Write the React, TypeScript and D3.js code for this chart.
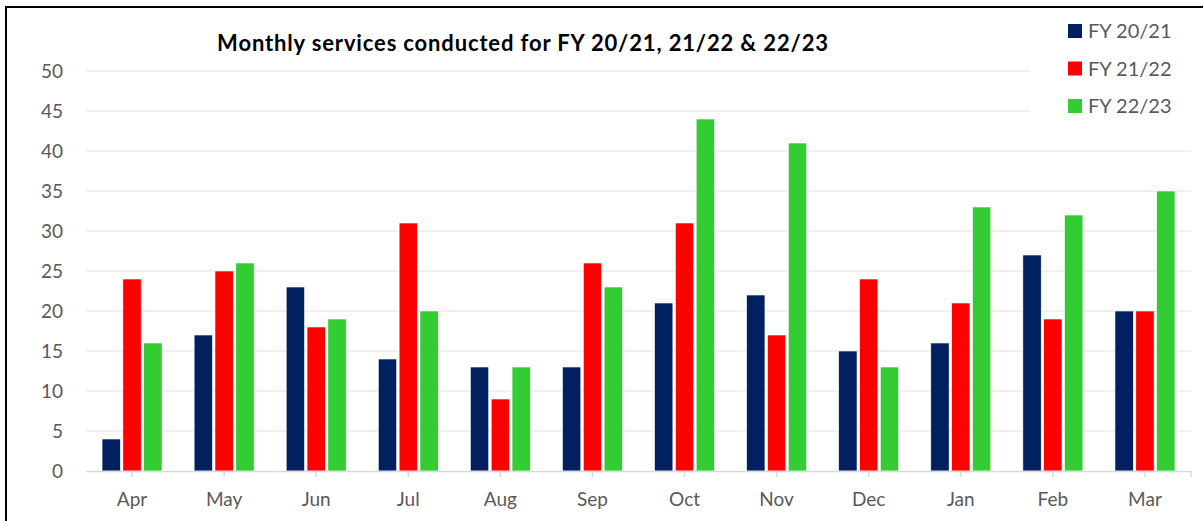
import * as d3 from "d3";

const MONTHS = ["Apr", "May", "Jun", "Jul", "Aug", "Sep", "Oct", "Nov", "Dec", "Jan", "Feb", "Mar"];
const SERIES = ["FY 20/21", "FY 21/22", "FY 22/23"];
const FY2021 = [4, 17, 23, 14, 13, 13, 21, 22, 15, 16, 27, 20];
const FY2122 = [24, 25, 18, 31, 9, 26, 31, 17, 24, 21, 19, 20];
const FY2223 = [16, 26, 19, 20, 13, 23, 44, 41, 13, 33, 32, 35];
const Y_TICKS = [0, 5, 10, 15, 20, 25, 30, 35, 40, 45, 50];
const COLORS = ["#002060", "#FF0000", "#33CC33"];

const FONT = "Lato, 'Open Sans', sans-serif";

export default function App() {
  const W = 1203;
  const H = 521;
  // plot area
  const plot = { left: 86, right: 1191, top: 71, bottom: 471 };

  const x = d3.scaleBand<string>().domain(MONTHS).range([plot.left, plot.right]).paddingInner(0).paddingOuter(0);
  const inner = d3.scaleBand<string>().domain(SERIES).range([0, 60]).paddingInner(0.12);
  const y = d3.scaleLinear().domain([0, 50]).range([plot.bottom, plot.top]);

  const values = [FY2021, FY2122, FY2223];
  const groupOffset = (x.bandwidth() - inner.range()[1]) / 2;

  // legend box covers gridlines at the top-right
  const legend = { x: 1030, y: 10, w: 165, h: 120 };

  return (
    <svg width={W} height={H} style={{ position: "absolute", left: 0, top: 0, background: "#fff" }}>
      <rect x={0} y={0} width={W} height={H} fill="#fff" />
      {/* outer frame */}
      <rect x={6} y={7} width={W + 10} height={H + 10} fill="none" stroke="#000" strokeWidth={2} />

      {/* gridlines */}
      {Y_TICKS.filter((t) => t > 0).map((t) => (
        <line key={t} x1={plot.left} x2={plot.right} y1={y(t)} y2={y(t)} stroke="#ebebeb" strokeWidth={1.3} />
      ))}

      {/* y labels */}
      {Y_TICKS.map((t) => (
        <text key={t} x={63} y={y(t)} dy="0.35em" textAnchor="end" fontFamily={FONT} fontSize={19} fill="#595959">
          {t}
        </text>
      ))}

      {/* bars */}
      {MONTHS.map((m, i) => (
        <g key={m} transform={`translate(${(x(m) ?? 0) + groupOffset},0)`}>
          {SERIES.map((s, j) => (
            <rect
              key={s}
              x={inner(s)}
              y={y(values[j][i])}
              width={inner.bandwidth()}
              height={y(0) - y(values[j][i])}
              fill={COLORS[j]}
              stroke="#fff"
              strokeWidth={0.6}
            />
          ))}
        </g>
      ))}

      {/* x axis */}
      <line x1={plot.left} x2={plot.right} y1={plot.bottom + 0.5} y2={plot.bottom + 0.5} stroke="#d9d9d9" strokeWidth={1.5} />
      {MONTHS.map((m) => {
        const cx = (x(m) ?? 0) + x.bandwidth() / 2;
        return (
          <g key={m}>
            <line x1={cx} x2={cx} y1={plot.bottom} y2={plot.bottom + 6} stroke="#d9d9d9" strokeWidth={1.5} />
            <text x={cx} y={506} textAnchor="middle" fontFamily={FONT} fontSize={19} fill="#595959">
              {m}
            </text>
          </g>
        );
      })}
      <line x1={plot.right} x2={plot.right} y1={plot.bottom} y2={plot.bottom + 6} stroke="#d9d9d9" strokeWidth={1.5} />

      {/* title */}
      <text x={523} y={51} textAnchor="middle" fontFamily={FONT} fontWeight="bold" fontSize={22} letterSpacing={0.85} fill="#000">
        Monthly services conducted for FY 20/21, 21/22 &amp; 22/23
      </text>

      {/* legend */}
      <rect x={legend.x} y={legend.y} width={legend.w} height={legend.h} fill="#fff" />
      {SERIES.map((s, j) => (
        <g key={s} transform={`translate(1068,${31 + j * 37.5})`}>
          <rect x={0} y={-7} width={14} height={14} fill={COLORS[j]} />
          <text x={20} y={0} dy="0.35em" fontFamily={FONT} fontSize={20} fill="#595959">
            {s}
          </text>
        </g>
      ))}
    </svg>
  );
}
